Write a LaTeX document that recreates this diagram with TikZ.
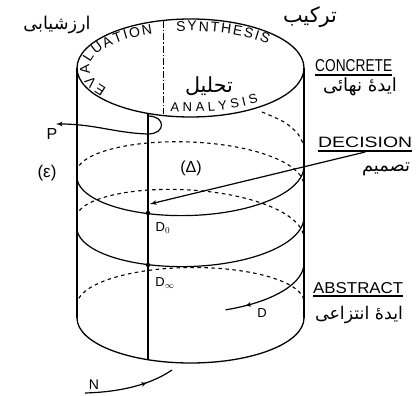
\documentclass[tikz,border=0pt]{standalone}
\usepackage{fontspec}
\setmainfont{Liberation Sans}
\newfontfamily\farsi[Script=Arabic]{DejaVu Sans}
\TeXXeTstate=1
\usetikzlibrary{arrows, arrows.meta, decorations.text, decorations.markings}
\tikzset{rim/.style = {line width = 1.3pt}}
\tikzset{front/.style = {line width = 1.2pt, > = latex'}}
\tikzset{back/.style = {line width = 1.1pt, dash pattern = on 3.5pt off 3.5pt}}
\tikzset{axis/.style = {line width = 0.9pt, dash pattern = on 7pt off 2pt on 1.5pt off 2pt}}
\tikzset{midarrow/.style = {postaction = {decorate, decoration = {markings, mark = at position #1 with {\arrow{latex'}}}}}}
\tikzset{word/.style = {inner sep = 0pt}}
\tikzset{lbl/.style = {inner sep = 0pt, font = \fontsize{16}{18}\selectfont}}
\newcommand{\fa}[2]{\resizebox{#1}{!}{#2}}
\newcommand{\lab}[3]{\resizebox{#1}{#2}{#3}}
\newcommand{\arcfont}{\fontsize{14}{14}\selectfont}

\begin{document}
\begin{tikzpicture}[x = 1pt, y = -1pt]
	\useasboundingbox (0, 0) rectangle (419, 395);

	% cylinder
	\draw[rim] (190.5, 68) ellipse [x radius = 113.5, y radius = 49];
	\draw[rim] (77, 68) -- (77, 318);
	\draw[rim] (304, 68) -- (304, 318);
	\draw[rim] (77, 318) arc [start angle = 180, end angle = 0, x radius = 113.5, y radius = 45];
	\draw[axis] (163, 21) -- (163, 114);
	\draw[line width = 1.7pt] (148, 114) -- (148, 360);

	% text on the top face
	\path[decorate, decoration = {text along path, text = {|\arcfont|EVALUATION}, text align = fit to path}]
		(190.5, 68) ++(146:101 and 37) arc [start angle = 146, end angle = 248, x radius = 101, y radius = 37];
	\path[decorate, decoration = {text along path, text = {|\arcfont|SYNTHESIS}, text align = fit to path}]
		(190.5, 68) ++(262:101 and 37) arc [start angle = 262, end angle = 320, x radius = 101, y radius = 37];
	\path[decorate, decoration = {text along path, text = {|\fontsize{13}{13}\selectfont|ANALYSIS}, text align = fit to path}]
		(190.5, 68) ++(100.6:109 and 44) arc [start angle = 100.6, end angle = 51.4, x radius = 109, y radius = 44];
	\node[word] (analfa) at (209, 86) {\fa{48pt}{\farsi\beginR تحلیل\endR}};

	% spiral
	\draw[back] plot[smooth] coordinates {(262, 112) (284, 122) (298, 134) (304, 146)};
	\draw[back] plot[domain = 180:360, samples = 60, variable = \t] ({190.5 + 113.5*cos(\t)}, {172 + 14*(\t - 180)/180 + 37*sin(\t)});
	\draw[front] plot[domain = 180:0, samples = 60, variable = \t] ({190.5 + 113.5*cos(\t)}, {166 + 11*\t/180 + 44*sin(\t)});
	\draw[back] plot[domain = 180:360, samples = 60, variable = \t] ({190.5 + 113.5*cos(\t)}, {217 + 22*(\t - 180)/180 + 38*sin(\t)});
	\draw[front] plot[domain = 180:0, samples = 60, variable = \t] ({190.5 + 113.5*cos(\t)}, {217 + 11*\t/180 + 44*sin(\t)});
	\draw[back] plot[domain = 180:360, samples = 60, variable = \t] ({190.5 + 113.5*cos(\t)}, {305 - 3*(\t - 180)/180 + 36*sin(\t)});
	\draw[front, midarrow = 0.8] plot[domain = 0:72, samples = 30, variable = \t] ({190.5 + 113.5*cos(\t)}, {263 + 5*\t/72 + 44*sin(\t)});

	\coordinate (dnaught) at (148, 213);
	\coordinate (dinfty) at (148, 265);
	\coordinate (tip) at (150, 204);
	\coordinate (parrow) at (56, 124);
	\coordinate (nstart) at (85, 393);
	\coordinate (nend) at (172, 370);
	\fill (dnaught) circle (2.2pt);
	\fill (dinfty) circle (2.2pt);

	% loop at P
	\draw[front, ->] (148, 116) .. controls (166, 116) and (166, 134) .. (148, 134)
		.. controls (115, 133) and (95, 124) .. (parrow);
	\draw[front, midarrow = 0.7] (nstart) .. controls (120, 392) and (150, 385) .. (nend);

	% labels
	\node[word] (evalfa) at (57, 25) {\fa{67pt}{\farsi\beginR ارزشیابی\endR}};
	\node[word] (synthfa) at (310, 17) {\fa{54pt}{\farsi\beginR ترکیب\endR}};
	\node[word, anchor = base west] (concrete) at (315, 72) {\lab{77pt}{12pt}{CONCRETE}};
	\draw[front] ([yshift = -3pt]concrete.base west) -- ([yshift = -3pt]concrete.base east);
	\node[word] (concretefa) at (360, 87) {\fa{74pt}{\farsi\beginR ایدهٔ نهائی\endR}};
	\node[word, anchor = base west] (decision) at (318, 148) {\lab{94pt}{10.5pt}{DECISION}};
	\draw[front] ([yshift = -3pt]decision.base west) -- ([yshift = -3pt]decision.base east);
	\node[word] (decisionfa) at (386, 169) {\fa{48pt}{\farsi\beginR تصمیم\endR}};
	\node[word, anchor = base west] (abstract) at (313, 293) {\lab{90pt}{11pt}{ABSTRACT}};
	\draw[front] ([yshift = -3pt]abstract.base west) -- ([yshift = -3pt]abstract.base east);
	\node[word] (abstractfa) at (359, 315) {\fa{88pt}{\farsi\beginR ایدهٔ انتزاعی\endR}};

	\node[lbl] (p) at (52, 134) {P};
	\node[lbl, font = \fontsize{17}{19}\selectfont] (eps) at (47, 173) {(ε)};
	\node[lbl] (delta) at (191, 168) {(Δ)};
	\node[lbl, font = \fontsize{13}{15}\selectfont] (dzerolab) at (163, 228) {D$_0$};
	\node[lbl, font = \fontsize{13}{15}\selectfont] (dinflab) at (165, 283) {D$_\infty$};
	\node[lbl, font = \fontsize{13}{15}\selectfont] (dlab) at (262, 313) {D};
	\node[lbl, font = \fontsize{14}{16}\selectfont] (n) at (94, 385) {N};

	\draw[front, ->] ([yshift = -4pt]decision.base) -- (tip);
\end{tikzpicture}
\end{document}
